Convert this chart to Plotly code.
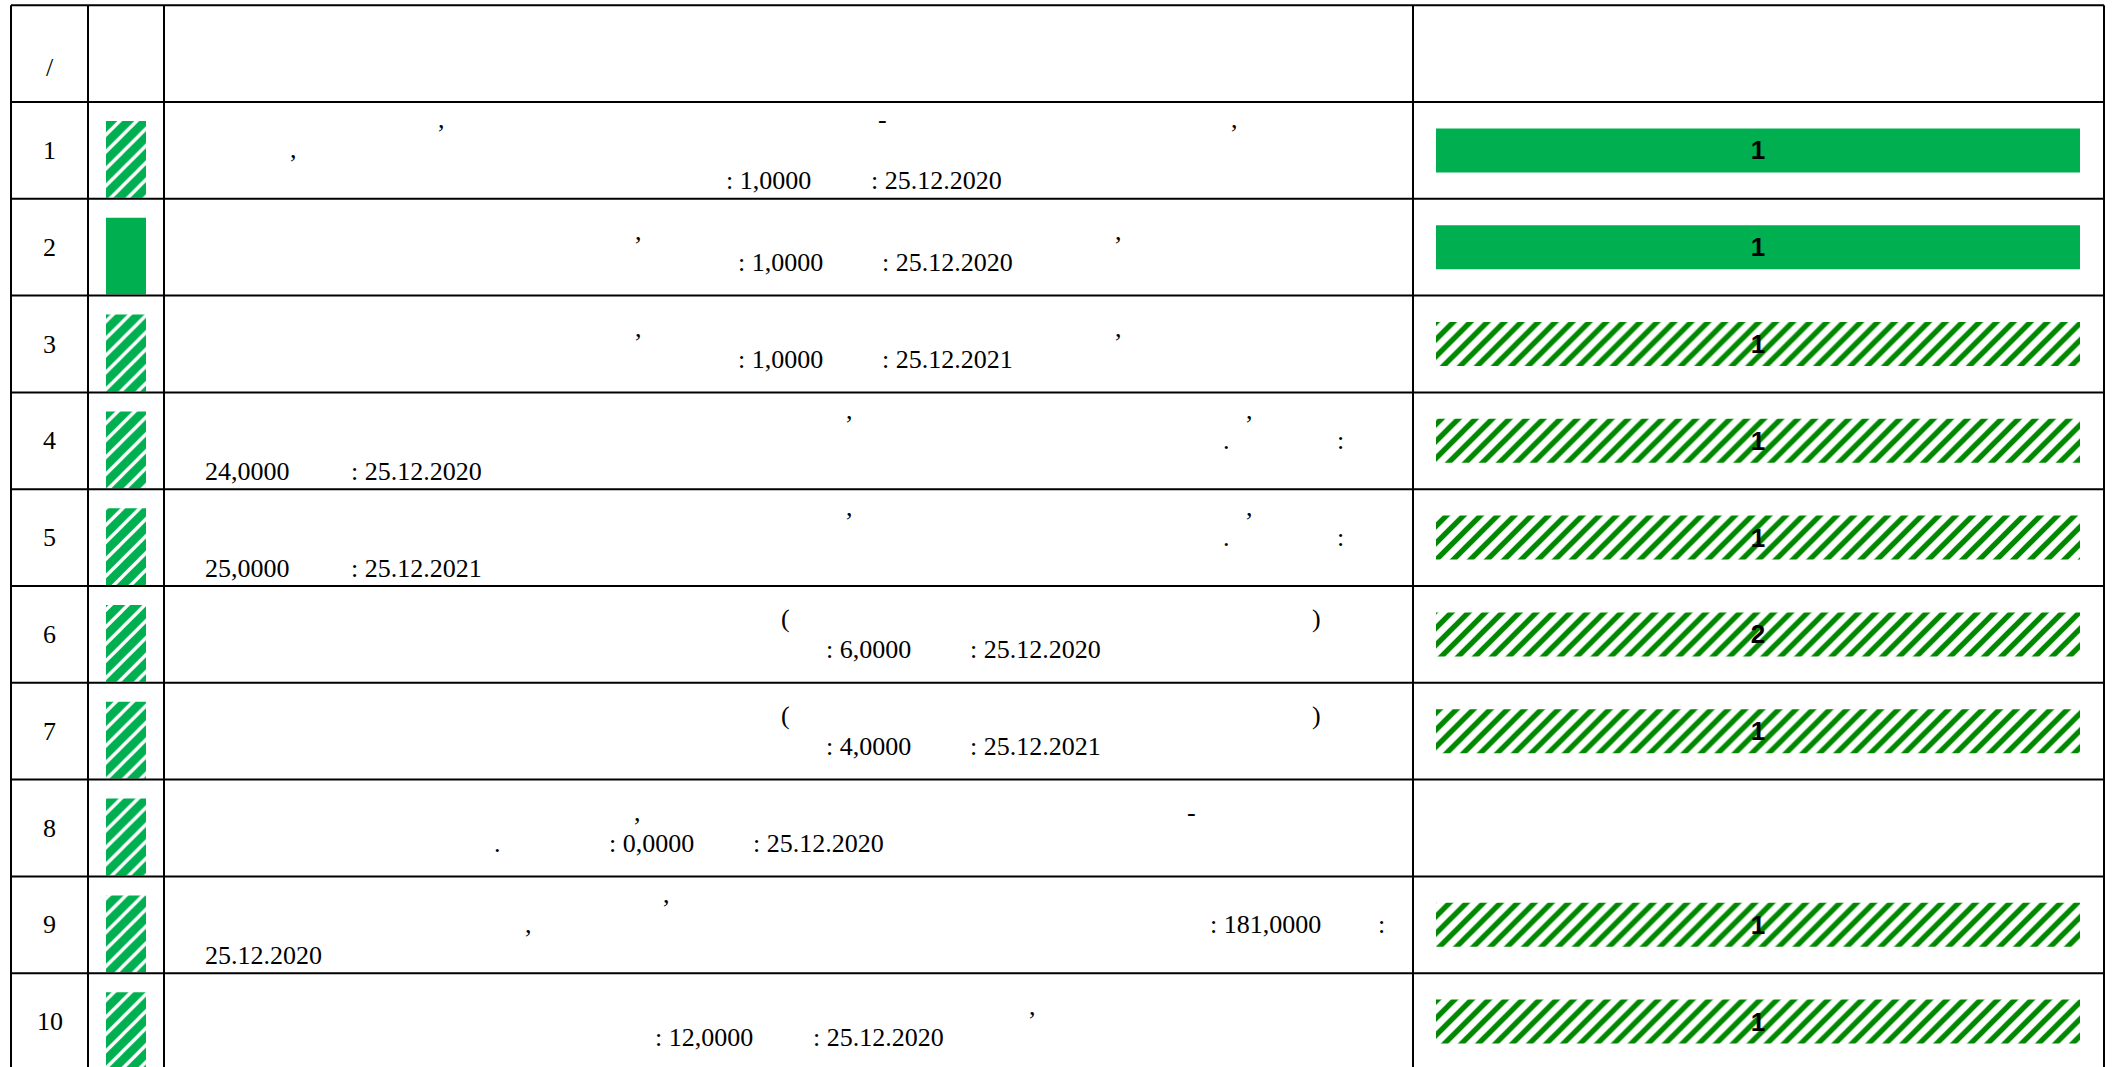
import plotly.graph_objects as go

# ---------------- data ----------------
rows = list(range(1, 11))
row_numbers = [str(r) for r in rows]
amounts = ["1,0000", "1,0000", "1,0000", "24,0000", "25,0000",
           "6,0000", "4,0000", "0,0000", "181,0000", "12,0000"]
dates = ["25.12.2020", "25.12.2020", "25.12.2021", "25.12.2020", "25.12.2021",
         "25.12.2020", "25.12.2021", "25.12.2020", "25.12.2020", "25.12.2020"]
bar_progress = [1, 1, 1, 1, 1, 1, 1, 0, 1, 1]
bar_labels = ["1", "1", "1", "1", "1", "2", "1", "", "1", "1"]
bar_status = ["done", "done", "plan", "plan", "plan", "plan", "plan", "none", "plan", "plan"]
icon_status = ["plan", "done", "plan", "plan", "plan", "plan", "plan", "plan", "plan", "plan"]
header_text = "/"

# ---------------- layout geometry (pixels) ----------------
W, H = 2113, 1067
TOP = 5.2          # top border of the table
ROW_H = 96.8       # height of every row (header included)
COLS = [11, 88, 164, 1413, 2104]
BAR_X0, BAR_X1 = 1436, 2080
ICON_W = 40
ICON_TOP = 19
BAR_H = 44

GREEN = "#00B050"
HATCH = "#008800"
FONT_SERIF = "Liberation Serif, Times New Roman, serif"
FONT_SANS = "Liberation Sans, Arial, sans-serif"
FS = 26


def py2row(p):
    """pixel -> row-unit coordinate on the y axis"""
    return -0.5 + (p - TOP) / ROW_H


# baseline offsets (px from row top) of the text lines
L1, L2, L3 = 27, 57, 88
LA, LB = 42, 73

# visible fragments of the description column: (x, baseline, text, anchor)
fragments = {
    1: [(441, L1, ",", "center"), (882, L1, "-", "center"), (1234, L1, ",", "center"),
        (293, L2, ",", "center"), (725, L3, "amt:", "left"), (870, L3, "date:", "left")],
    2: [(638, LA, ",", "center"), (1118, LA, ",", "center"),
        (737, LB, "amt:", "left"), (881, LB, "date:", "left")],
    3: [(638, LA, ",", "center"), (1118, LA, ",", "center"),
        (737, LB, "amt:", "left"), (881, LB, "date:", "left")],
    4: [(849, L1, ",", "center"), (1249, L1, ",", "center"),
        (1226, L2, ".", "center"), (1340, L2, ":", "center"),
        (204, L3, "amt", "left"), (350, L3, "date:", "left")],
    5: [(849, L1, ",", "center"), (1249, L1, ",", "center"),
        (1226, L2, ".", "center"), (1340, L2, ":", "center"),
        (204, L3, "amt", "left"), (350, L3, "date:", "left")],
    6: [(785, LA, "(", "center"), (1316, LA, ")", "center"),
        (825, LB, "amt:", "left"), (969, LB, "date:", "left")],
    7: [(785, LA, "(", "center"), (1316, LA, ")", "center"),
        (825, LB, "amt:", "left"), (969, LB, "date:", "left")],
    8: [(637, LA, ",", "center"), (1191, LA, "-", "center"),
        (497, LB, ".", "center"), (608, LB, "amt:", "left"), (752, LB, "date:", "left")],
    9: [(666, L1, ",", "center"), (528, L2, ",", "center"),
        (1209, L2, "amt:", "left"), (1381, L2, ":", "center"),
        (204, L3, "date", "left")],
    10: [(1032, LA, ",", "center"), (654, LB, "amt:", "left"), (812, LB, "date:", "left")],
}

fig = go.Figure()

# ---------------- progress bars (right column) ----------------
def bar_trace(status, pattern):
    idx = [i for i, s in enumerate(bar_status) if s == status]
    marker = dict(color=GREEN, line=dict(width=0))
    if pattern:
        marker = dict(color="white", line=dict(width=0),
                      pattern=dict(shape="/", fgcolor=HATCH, bgcolor="white",
                                   size=12, solidity=0.45, fillmode="replace"))
    return go.Bar(
        orientation="h",
        y=[rows[i] for i in idx],
        x=[bar_progress[i] for i in idx],
        base=0,
        width=BAR_H / ROW_H,
        text=[bar_labels[i] for i in idx],
        textposition="inside",
        insidetextanchor="middle",
        textangle=0,
        constraintext="none",
        textfont=dict(family=FONT_SANS, size=26, color="black", weight="bold"),
        marker=marker,
        xaxis="x2", yaxis="y",
        hoverinfo="skip", showlegend=False,
    )

fig.add_trace(bar_trace("done", False))
fig.add_trace(bar_trace("plan", True))

# ---------------- status icons (second column) ----------------
icon_len = (ROW_H - ICON_TOP - 1) / ROW_H

def icon_trace(status, pattern):
    idx = [i for i, s in enumerate(icon_status) if s == status]
    marker = dict(color=GREEN, line=dict(width=0))
    if pattern:
        marker = dict(color=GREEN, line=dict(width=0),
                      pattern=dict(shape="/", fgcolor="white", bgcolor=GREEN,
                                   size=12, solidity=0.28, fillmode="replace"))
    return go.Bar(
        x=[0.5] * len(idx),
        y=[icon_len] * len(idx),
        base=[rows[i] - 0.5 + ICON_TOP / ROW_H for i in idx],
        width=ICON_W / (COLS[2] - COLS[1]),
        marker=marker,
        xaxis="x3", yaxis="y",
        hoverinfo="skip", showlegend=False,
    )

fig.add_trace(icon_trace("done", False))
fig.add_trace(icon_trace("plan", True))

# ---------------- grid lines ----------------
shapes = []
y_top = -0.5
y_bot = py2row(H + 10)
for cx in COLS:
    shapes.append(dict(type="line", xref="x", yref="y", x0=cx, x1=cx, y0=y_top, y1=y_bot,
                       line=dict(color="black", width=2)))
for k in range(0, 12):
    yy = -0.5 + k
    shapes.append(dict(type="line", xref="x", yref="y", x0=COLS[0], x1=COLS[-1], y0=yy, y1=yy,
                       line=dict(color="black", width=2)))

# ---------------- texts ----------------
BASE_TO_CENTER = 0.35 * FS
annotations = []
# header
annotations.append(dict(x=(COLS[0] + COLS[1]) / 2, y=py2row(67), xref="x", yref="y",
                        text=header_text, showarrow=False,
                        font=dict(family=FONT_SERIF, size=FS, color="black")))
for i, r in enumerate(rows):
    annotations.append(dict(x=(COLS[0] + COLS[1]) / 2, y=r, xref="x", yref="y",
                            text=row_numbers[i], showarrow=False,
                            font=dict(family=FONT_SERIF, size=FS, color="black")))
    row_top = TOP + (r) * ROW_H
    for (fx, base, txt, anchor) in fragments[r]:
        if txt == "amt:":
            s = ": " + amounts[i]
        elif txt == "amt":
            s = amounts[i]
        elif txt == "date:":
            s = ": " + dates[i]
        elif txt == "date":
            s = dates[i]
        else:
            s = txt
        annotations.append(dict(x=fx, y=py2row(row_top + base - BASE_TO_CENTER),
                                xref="x", yref="y", text=s, showarrow=False,
                                xanchor=anchor, yanchor="middle", borderpad=0,
                                font=dict(family=FONT_SERIF, size=FS, color="black")))

fig.update_layout(
    width=W, height=H, autosize=False,
    margin=dict(l=0, r=0, t=0, b=0),
    paper_bgcolor="white", plot_bgcolor="white",
    barmode="overlay",
    xaxis=dict(range=[0, W], domain=[0, 1], visible=False, fixedrange=True),
    xaxis2=dict(range=[0, 1], domain=[BAR_X0 / W, BAR_X1 / W], visible=False,
                anchor="y", fixedrange=True),
    xaxis3=dict(range=[0, 1], domain=[COLS[1] / W, COLS[2] / W], visible=False,
                anchor="y", fixedrange=True),
    yaxis=dict(range=[py2row(H), py2row(0)], domain=[0, 1], visible=False, fixedrange=True),
    shapes=shapes,
    annotations=annotations,
    showlegend=False,
)

fig.write_html("out.html", config={"displayModeBar": False},
               post_script="document.body.style.margin='0';document.body.style.overflow='hidden';")
